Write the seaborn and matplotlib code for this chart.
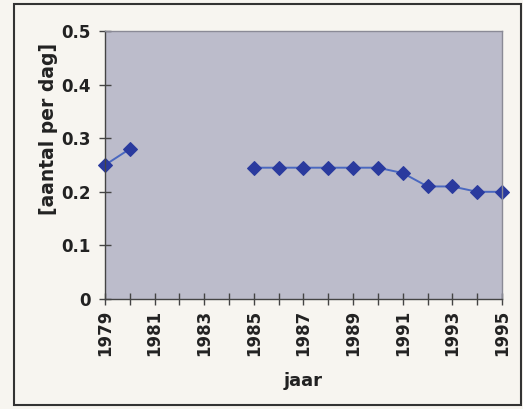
import numpy as np
import pandas as pd
import matplotlib
matplotlib.use("Agg")
import matplotlib.pyplot as plt
from matplotlib.patches import Rectangle
from matplotlib.ticker import MultipleLocator
import seaborn as sns

# Aantal per dag, per jaar (1981-1984 ontbreken)
jaren = [1979, 1980, 1985, 1986, 1987, 1988, 1989, 1990, 1991, 1992, 1993, 1994, 1995]
aantal = [0.25, 0.28, 0.245, 0.245, 0.245, 0.245, 0.245, 0.245, 0.235, 0.21, 0.21, 0.20, 0.20]
periode = [1, 1, 2, 2, 2, 2, 2, 2, 2, 2, 2, 2, 2]
y_ticks = [0, 0.1, 0.2, 0.3, 0.4, 0.5]
y_labels = ["0", "0.1", "0.2", "0.3", "0.4", "0.5"]
x_ticks = list(range(1979, 1996, 2))

df = pd.DataFrame({"jaar": jaren, "aantal": aantal, "periode": periode})

sns.set_style("white")
plt.rcParams["font.family"] = ["DejaVu Sans"]

fig = plt.figure(figsize=(5.23, 4.09), dpi=100, facecolor="#f7f5f0")
ax = fig.add_axes([0.2008, 0.2689, 0.759, 0.6553])
ax.set_facecolor("#bcbccb")

sns.lineplot(data=df, x="jaar", y="aantal", units="periode", estimator=None,
             marker="D", markersize=7.5, color="#4a68c0", linewidth=1.4,
             markerfacecolor="#2a3a9e", markeredgecolor="#2a3a9e", ax=ax)
for line in ax.lines:
    line.set_clip_on(False)

ax.set_xlim(1979, 1995)
ax.set_ylim(0, 0.5)
ax.set_xticks(x_ticks)
ax.set_xticklabels([str(j) for j in x_ticks], rotation=90, fontsize=12,
                   fontweight="bold", color="#222222")
ax.xaxis.set_minor_locator(MultipleLocator(1))
ax.set_yticks(y_ticks)
ax.set_yticklabels(y_labels, fontsize=12, fontweight="bold", color="#222222")

ax.tick_params(axis="both", which="both", direction="inout", length=9,
               width=1.0, color="#444444", pad=6, bottom=True, left=True)
ax.tick_params(axis="x", which="major", pad=3)

for side in ["top", "right"]:
    ax.spines[side].set_color("#8a8a96")
    ax.spines[side].set_linewidth(1.0)
    ax.spines[side].set_linestyle((0, (2, 1)))
for side in ["left", "bottom"]:
    ax.spines[side].set_color("#444444")
    ax.spines[side].set_linewidth(1.0)

ax.set_xlabel("jaar", fontsize=13, fontweight="bold", color="#222222", labelpad=12)
ax.set_ylabel("[aantal per dag]", fontsize=13.5, fontweight="bold", color="#222222",
              labelpad=0)
ax.yaxis.set_label_coords(-0.118, 0.634)

# Kader om de hele grafiek
fig.patches.append(Rectangle((14 / 523, 4 / 409), 507 / 523, 401 / 409,
                             transform=fig.transFigure, fill=False,
                             edgecolor="#333333", linewidth=1.5))

fig.savefig("out.png", dpi=100, facecolor=fig.get_facecolor())
